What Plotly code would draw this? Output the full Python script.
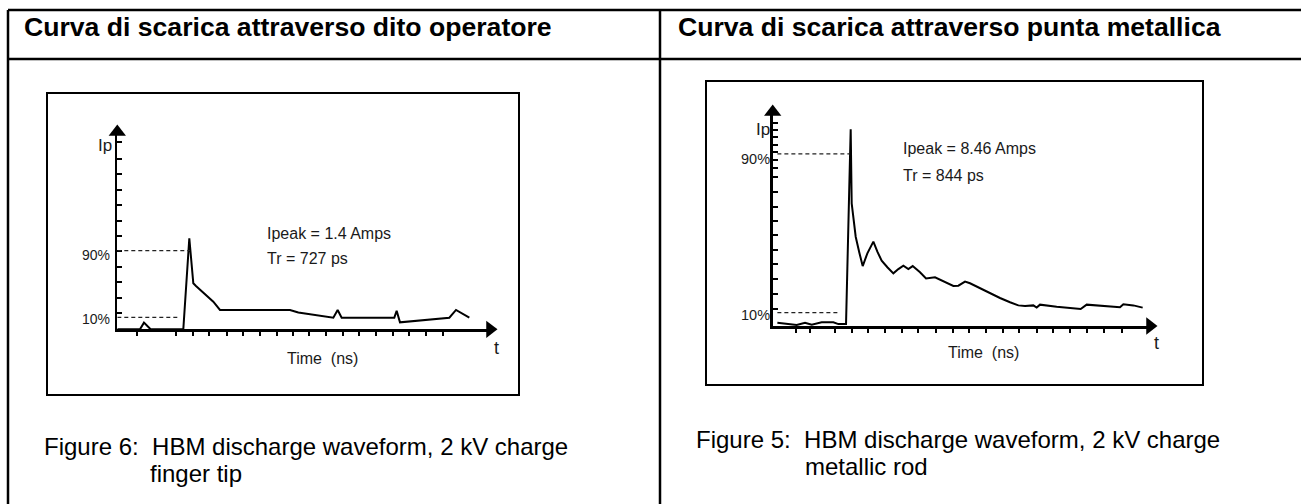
import plotly.graph_objects as go

W, H = 1301, 504

# ---------------- data ----------------
# Left: discharge through operator finger (time in ns, current in axis-tick units)
finger_t = [0, 1.36, 1.6, 2.0, 3.96, 4.32, 4.56, 4.72, 5.76, 6.16, 10.36, 10.86,
            12.96, 13.22, 13.46, 16.62, 16.76, 16.96, 19.92, 20.32, 21.12]
finger_i = [0, 0, 0.43, 0, 0, 5.87, 2.97, 2.80, 1.78, 1.25, 1.25, 1.08,
            0.75, 1.25, 0.75, 0.75, 1.2, 0.45, 0.75, 1.25, 0.75]
finger_xticks = [1.16, 3.52, 4.52, 5.52, 6.56, 7.56, 8.56, 9.56, 10.56, 11.52,
                 12.52, 13.52, 14.52, 15.52, 16.52, 17.52, 18.52, 19.56]
finger_yticks = [1.05, 2.04, 3.06, 4.04, 5.05, 6.04, 7.0, 8.0, 9.0, 10.0, 11.0, 12.1]
finger_levels = [0.77, 5.08]          # 10 %, 90 %
finger_level_end = [3.72, 4.36]
finger_level_labels = ["10%", "90%"]
finger_level_label_y = [0.67, 4.8]

# Right: discharge through metallic rod
rod_t = [0.28, 1.04, 1.44, 1.94, 2.34, 2.94, 3.64, 3.94, 4.4, 4.6, 4.68, 4.74,
         4.98, 5.2, 5.4, 5.68, 6.04, 6.28, 6.54, 6.88, 7.24, 7.54, 7.84, 8.14,
         8.4, 8.84, 9.2, 9.74, 10.24, 10.84, 11.14, 11.54, 11.84, 12.44, 13.04,
         13.64, 14.24, 14.74, 15.14, 15.64, 15.84, 16.04, 17.04, 18.04, 18.48,
         18.84, 19.54, 20.24, 20.84, 21.04, 21.64, 22.2]
rod_i = [0.22, 0.13, 0.07, 0.22, 0.09, 0.25, 0.25, 0.13, 0.13, 9.6, 13.26, 8.27,
         6.02, 4.94, 4.04, 4.9, 5.69, 5.01, 4.4, 3.96, 3.55, 3.84, 4.07, 3.84,
         4.04, 3.62, 3.21, 3.28, 3.01, 2.7, 2.72, 2.99, 2.88, 2.54, 2.2,
         1.89, 1.6, 1.39, 1.35, 1.39, 1.24, 1.44, 1.3, 1.17, 1.15,
         1.44, 1.39, 1.3, 1.26, 1.46, 1.39, 1.24]
rod_xticks = [1.4, 2.24, 3.74, 4.74, 5.74, 6.74, 7.74, 8.74, 9.8, 10.8, 11.8,
              12.8, 13.8, 14.8, 15.84, 16.84, 17.84, 18.84, 19.9, 20.94]
rod_yticks = [1.15, 2.15, 3.15, 4.15, 5.12, 6.12, 7.07, 8.04, 9.05, 10.07,
              10.63, 11.2, 11.75, 12.2, 12.72, 13.2, 13.67]
rod_levels = [0.9, 11.6]
rod_level_start = 0.28
rod_level_end = [3.9, 4.6]
rod_level_labels = ["10%", "90%"]
rod_level_label_y = [0.74, 11.26]

headers = ["Curva di scarica attraverso dito operatore",
           "Curva di scarica attraverso punta metallica"]
caption_line1 = ["Figure 6:  HBM discharge waveform, 2 kV charge",
                 "Figure 5:  HBM discharge waveform, 2 kV charge"]
caption_line2 = ["finger tip", "metallic rod"]
peak_texts = ["Ipeak = 1.4 Amps", "Ipeak = 8.46 Amps"]
tr_texts = ["Tr = 727 ps", "Tr = 844 ps"]

# ---------------- helpers ----------------
def px(x):
    return x / W

def py(y):
    return 1 - y / H

FONT = "Liberation Sans, Arial, sans-serif"
TXT = "#1a1a1a"

fig = go.Figure()

# axis geometry (pixel domains) and ranges
L_DOM_X, L_DOM_Y = (117.3, 490), (329.3, 132)
R_DOM_X, R_DOM_Y = (772.7, 1150), (326, 112)
L_XR, L_YR = 22.36, 12.73
R_XR, R_YR = 22.64, 14.43

def to_paper(dx, dy, domx, domy, xr, yr):
    """Map a value in an axis frame to paper coordinates (for labels outside the range)."""
    xpix = domx[0] + (domx[1] - domx[0]) * dx / xr
    ypix = domy[0] + (domy[1] - domy[0]) * dy / yr
    return px(xpix), py(ypix)

# waveforms
fig.add_trace(go.Scatter(x=finger_t, y=finger_i, mode="lines",
                         line=dict(color="black", width=2),
                         xaxis="x", yaxis="y", showlegend=False, cliponaxis=False))
fig.add_trace(go.Scatter(x=rod_t, y=rod_i, mode="lines",
                         line=dict(color="black", width=2),
                         xaxis="x2", yaxis="y2", showlegend=False, cliponaxis=False))

# arrow heads at axis ends
for xa, ya, xr, yr in [("x", "y", L_XR, L_YR), ("x2", "y2", R_XR, R_YR)]:
    fig.add_trace(go.Scatter(x=[xr], y=[0], mode="markers", xaxis=xa, yaxis=ya,
                             marker=dict(symbol="triangle-right", size=15, color="black"),
                             showlegend=False, cliponaxis=False, hoverinfo="skip"))
    fig.add_trace(go.Scatter(x=[0], y=[yr], mode="markers", xaxis=xa, yaxis=ya,
                             marker=dict(symbol="triangle-up", size=15, color="black"),
                             showlegend=False, cliponaxis=False, hoverinfo="skip"))

def xax(domain, rng, tickvals, anchor):
    return dict(domain=[px(domain[0]), px(domain[1])], range=[0, rng], showline=True,
                linecolor="black", linewidth=2.5, ticks="outside", tickvals=tickvals,
                ticklen=4, tickwidth=2, tickcolor="black", showticklabels=False,
                showgrid=False, zeroline=False, anchor=anchor, fixedrange=True)

def yax(domain, rng, tickvals, anchor):
    return dict(domain=[py(domain[0]), py(domain[1])], range=[0, rng], showline=True,
                linecolor="black", linewidth=2.5, ticks="inside", tickvals=tickvals,
                ticklen=5, tickwidth=2, tickcolor="black", showticklabels=False,
                showgrid=False, zeroline=False, anchor=anchor, fixedrange=True)

shapes = []
# table frame
line_w = 2.5
shapes.append(dict(type="line", xref="paper", yref="paper", x0=px(8), x1=1.01,
                   y0=py(10), y1=py(10), line=dict(color="black", width=line_w)))
shapes.append(dict(type="line", xref="paper", yref="paper", x0=px(8), x1=1.01,
                   y0=py(59), y1=py(59), line=dict(color="black", width=line_w)))
shapes.append(dict(type="line", xref="paper", yref="paper", x0=px(8), x1=px(8),
                   y0=py(10), y1=-0.01, line=dict(color="black", width=line_w)))
shapes.append(dict(type="line", xref="paper", yref="paper", x0=px(660), x1=px(660),
                   y0=py(10), y1=-0.01, line=dict(color="black", width=line_w)))
# figure boxes
shapes.append(dict(type="rect", xref="paper", yref="paper", x0=px(47), x1=px(519),
                   y0=py(93), y1=py(395), line=dict(color="black", width=2)))
shapes.append(dict(type="rect", xref="paper", yref="paper", x0=px(706), x1=px(1203),
                   y0=py(81), y1=py(385), line=dict(color="black", width=2)))

# dashed 10% / 90% levels
for lv, le in zip(finger_levels, finger_level_end):
    shapes.append(dict(type="line", xref="x", yref="y", x0=0, x1=le, y0=lv, y1=lv,
                       line=dict(color="#222", width=1.3, dash="4px,3px")))
for lv, le in zip(rod_levels, rod_level_end):
    shapes.append(dict(type="line", xref="x2", yref="y2", x0=rod_level_start, x1=le,
                       y0=lv, y1=lv, line=dict(color="#222", width=1.3, dash="4px,3px")))

ann = []
def text(x, y, s, size, xanchor="left", color=TXT):
    ann.append(dict(x=x, y=y, xref="paper", yref="paper", text=s, showarrow=False,
                    xanchor=xanchor, yanchor="middle",
                    font=dict(family=FONT, size=size, color=color)))

def ltext(dx, dy, s, size, xanchor="left"):
    x, y = to_paper(dx, dy, L_DOM_X, L_DOM_Y, L_XR, L_YR)
    text(x, y, s, size, xanchor)

def rtext(dx, dy, s, size, xanchor="left"):
    x, y = to_paper(dx, dy, R_DOM_X, R_DOM_Y, R_XR, R_YR)
    text(x, y, s, size, xanchor)

# headers
text(px(22), py(27), "<b>" + headers[0] + "</b>", 26.6, color="black")
text(px(676), py(27), "<b>" + headers[1] + "</b>", 26.6, color="black")
# captions
text(px(42), py(446), caption_line1[0], 24, color="black")
text(px(148), py(473), caption_line2[0], 24, color="black")
text(px(694), py(439), caption_line1[1], 24, color="black")
text(px(803), py(466), caption_line2[1], 24, color="black")

# left plot texts
ltext(8.86, 6.21, peak_texts[0], 16)
ltext(8.86, 4.54, tr_texts[0], 16)
ltext(12.34, -1.91, "Time&nbsp;&nbsp;(ns)", 16, "center")
ltext(22.72, -1.2, "t", 18, "center")
ltext(-0.2, 11.89, "Ip", 17, "right")
for lab, ly in zip(finger_level_labels, finger_level_label_y):
    ltext(-0.3, ly, lab, 14, "right")

# right plot texts
rtext(7.68, 12.0, peak_texts[1], 16)
rtext(7.68, 10.18, tr_texts[1], 16)
rtext(12.62, -1.82, "Time&nbsp;&nbsp;(ns)", 16, "center")
rtext(23.06, -1.15, "t", 18, "center")
rtext(-0.05, 13.28, "Ip", 17, "right")
for lab, ly in zip(rod_level_labels, rod_level_label_y):
    rtext(-0.05, ly, lab, 14.5, "right")

fig.update_layout(
    width=W, height=H,
    margin=dict(l=0, r=0, t=0, b=0),
    paper_bgcolor="white", plot_bgcolor="rgba(0,0,0,0)",
    showlegend=False,
    xaxis=xax(L_DOM_X, L_XR, finger_xticks, "y"),
    yaxis=yax(L_DOM_Y, L_YR, finger_yticks, "x"),
    xaxis2=xax(R_DOM_X, R_XR, rod_xticks, "y2"),
    yaxis2=yax(R_DOM_Y, R_YR, rod_yticks, "x2"),
    shapes=shapes,
    annotations=ann,
)

fig.write_html("out.html",
               config={"displayModeBar": False, "staticPlot": True},
               post_script="document.body.style.margin='0';document.body.style.overflow='hidden';")
